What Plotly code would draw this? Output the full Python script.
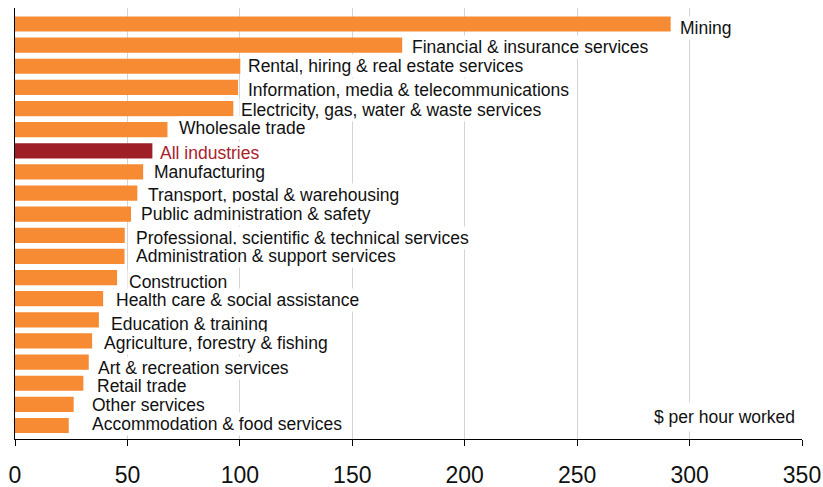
import plotly.graph_objects as go

categories = [
    "Mining", "Financial & insurance services", "Rental, hiring & real estate services",
    "Information, media & telecommunications", "Electricity, gas, water & waste services",
    "Wholesale trade", "All industries", "Manufacturing", "Transport, postal & warehousing",
    "Public administration & safety", "Professional, scientific & technical services",
    "Administration & support services", "Construction", "Health care & social assistance",
    "Education & training", "Agriculture, forestry & fishing", "Art & recreation services",
    "Retail trade", "Other services", "Accommodation & food services",
]
values = [291.6, 172.2, 100.2, 99.2, 97.1, 67.8, 61.1, 57.0, 54.4, 51.6,
          48.8, 48.7, 45.4, 39.2, 37.3, 34.3, 32.8, 30.4, 26.1, 23.9]
x_ticks = [0, 50, 100, 150, 200, 250, 300, 350]
unit_label = "$ per hour worked"

# label placement tweaks (pixels)
label_dx = [8, 9, 7, 9, 7, 11, 7, 10, 10, 9, 10, 10, 11, 12, 11, 11, 8, 13, 17, 22]
label_dy = [-4, -1.5, 0, -3, -1, 1.5, -2, 0, -2, 0, -3, 0, -4.5, -1.5, -4.5, -2.5, -6, -3, -1, 1.5]

ORANGE = "#F68B33"
DARKRED = "#9E1F26"
colors = [DARKRED if c == "All industries" else ORANGE for c in categories]

fig = go.Figure()
fig.add_trace(go.Bar(
    x=values, y=categories, orientation="h",
    marker=dict(color=colors, line=dict(width=0)),
    hoverinfo="x+y",
))

for c, v, dx, dy in zip(categories, values, label_dx, label_dy):
    fig.add_annotation(
        x=v, y=c, xref="x", yref="y", text=c, showarrow=False,
        xanchor="left", yanchor="middle", xshift=dx - 1, yshift=dy,
        bgcolor="white", borderpad=1,
        font=dict(size=17.5, color="#A8232B" if c == "All industries" else "#111111"),
    )

fig.add_annotation(
    x=350, y=categories[-2], xref="x", yref="y", text=unit_label, showarrow=False,
    xanchor="right", yanchor="middle", xshift=-2, yshift=-13,
    bgcolor="white", borderpad=4, font=dict(size=17.5, color="#111111"),
)

fig.update_layout(
    width=823, height=487,
    margin=dict(l=14.5, r=21, t=8, b=48, autoexpand=False),
    paper_bgcolor="white", plot_bgcolor="white",
    font=dict(family="Arial, Liberation Sans, sans-serif", color="#111111"),
    bargap=0.28, showlegend=False,
)
fig.update_xaxes(
    range=[0, 350], tickvals=x_ticks, ticktext=[str(t) for t in x_ticks],
    showgrid=True, gridcolor="#D4D4D4", gridwidth=1, zeroline=False,
    showline=True, linecolor="black", linewidth=1.3,
    ticks="outside", ticklen=6, tickcolor="black", tickwidth=1,
    tickfont=dict(size=23, color="#111111"), ticklabelstandoff=9,
    automargin=False,
)
fig.update_yaxes(
    autorange="reversed", showticklabels=False, showgrid=False, zeroline=False,
    showline=True, linecolor="black", linewidth=1.3, ticks="", automargin=False,
)

fig.write_html(
    "out.html",
    config={"displayModeBar": False},
    post_script="document.body.style.margin='0';document.body.style.overflow='hidden';",
)
